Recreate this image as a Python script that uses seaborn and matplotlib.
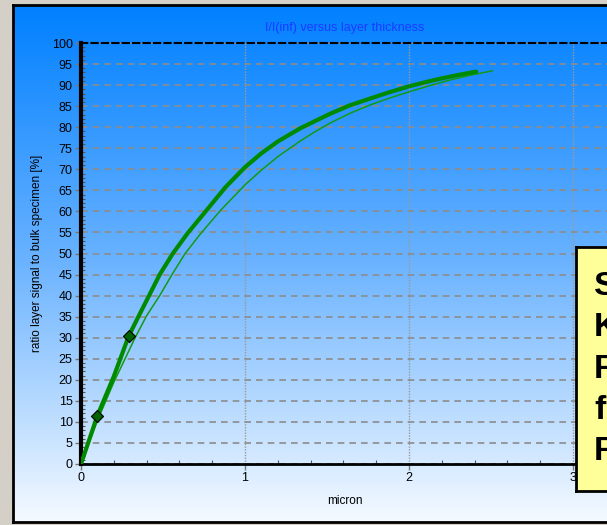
import numpy as np
import pandas as pd
import matplotlib
matplotlib.use("Agg")
import matplotlib.pyplot as plt
import seaborn as sns

# ---- data ----
thick_x = [0, 0.1, 0.2, 0.29, 0.35, 0.415, 0.48, 0.56, 0.65, 0.76, 0.88, 1.0, 1.1, 1.2,
           1.34, 1.44, 1.52, 1.64, 1.77, 1.88, 2.0, 2.1, 2.2, 2.3, 2.41]
thick_y = [0, 11.5, 20.8, 30.3, 35, 40, 45, 50, 54.8, 60, 65.7, 70.5, 73.8, 76.6,
           79.8, 81.7, 83.2, 85.2, 86.9, 88.3, 89.7, 90.7, 91.6, 92.4, 93.2]
thin_x = [0, 0.1, 0.2, 0.33, 0.4, 0.48, 0.555, 0.635, 0.727, 0.85, 1.0, 1.1, 1.2, 1.34,
          1.43, 1.52, 1.64, 1.77, 1.88, 2.0, 2.12, 2.25, 2.38, 2.51]
thin_y = [0, 10.3, 19.4, 30, 35.2, 40, 45, 50, 54.6, 60.2, 66.3, 69.8, 73, 76.8,
          79.0, 81, 83.3, 85.4, 86.9, 88.4, 89.8, 91.2, 92.4, 93.4]
marker_x = [0.1, 0.29]
marker_y = [11.5, 30.3]
x_ticks = [0, 1, 2, 3]
y_ticks = list(range(0, 101, 5))
title = "I/I(inf) versus layer thickness"
x_label = "micron"
y_label = "ratio layer signal to bulk specimen [%]"
box_text = "S\nK\nR\nf\nR"

thick = pd.DataFrame({"x": thick_x, "y": thick_y})
thin = pd.DataFrame({"x": thin_x, "y": thin_y})
marks = pd.DataFrame({"x": marker_x, "y": marker_y})

sns.set_theme(style="white")
plt.rcParams["font.family"] = ["Liberation Sans", "DejaVu Sans"]

W, H = 607, 525
fig = plt.figure(figsize=(W / 100, H / 100), dpi=100)
fig.patch.set_facecolor("#d4d0c8")

# gradient panel
px0, py0, px1, py1 = 13, 5, 640, 522
bg = fig.add_axes([px0 / W, 1 - py1 / H, (px1 - px0) / W, (py1 - py0) / H])
stops_pos = [0.0, 0.49, 1.0]
stops_col = np.array([[0, 128, 255], [105, 178, 255], [245, 250, 255]]) / 255.0
t = np.linspace(0, 1, 300)
grad = np.stack([np.interp(t, stops_pos, stops_col[:, c]) for c in range(3)], axis=1)
bg.imshow(grad[:, None, :], aspect="auto", extent=[0, 1, 0, 1], interpolation="bilinear")
bg.set_xticks([]); bg.set_yticks([])
for s in bg.spines.values():
    s.set_color("black"); s.set_linewidth(2)
bg.set_zorder(0)

# plot axes
l, r, top, bot = 81, 609, 43, 464
ax = fig.add_axes([l / W, 1 - bot / H, (r - l) / W, (bot - top) / H])
ax.set_facecolor("none")
ax.set_zorder(1)

sns.lineplot(data=thin, x="x", y="y", ax=ax, color="#139a13", lw=1.1, sort=False, zorder=3)
sns.lineplot(data=thick, x="x", y="y", ax=ax, color="#008a00", lw=3.0, sort=False, zorder=4)
sns.scatterplot(data=marks, x="x", y="y", ax=ax, marker="D", s=38, color="#006400",
                edgecolor="black", linewidth=0.8, zorder=5)

ax.set_xlim(0, 3.22)
ax.set_ylim(0, 100)
ax.set_xticks(x_ticks)
ax.set_yticks(y_ticks)
ax.set_xticks(np.arange(0, 3.21, 0.2), minor=True)
ax.set_yticks(np.arange(0, 101, 1), minor=True)
ax.grid(True, axis="y", which="major", color="#8c8c8c", linestyle=(0, (4, 3)), lw=1.2)
ax.grid(True, axis="x", which="major", color="#9a9a9a", linestyle=(0, (1, 1)), lw=1.0)
ax.tick_params(axis="both", which="major", direction="out", length=4, width=1,
               color="#777777", labelsize=9, labelcolor="black", pad=2,
               bottom=True, left=True)
ax.tick_params(axis="both", which="minor", direction="in", length=3, width=0.8,
               color="#555555", bottom=True, left=True)
ax.set_xlabel(x_label, fontsize=8.5, color="black", labelpad=8)
ax.set_ylabel(y_label, fontsize=8.5, color="black", labelpad=6)
ax.set_title(title, fontsize=9, color="#1a3cff", pad=9)

ax.spines["left"].set_color("black"); ax.spines["left"].set_linewidth(3)
ax.spines["bottom"].set_color("black"); ax.spines["bottom"].set_linewidth(2)
ax.spines["top"].set_color("black"); ax.spines["top"].set_linewidth(1.5)
ax.spines["top"].set_linestyle((0, (3, 2)))
ax.spines["right"].set_visible(False)

# yellow box (partly outside the picture, as in the reference)
bx0, by0, bx1, by1 = 576, 247, 660, 491
box = fig.add_axes([bx0 / W, 1 - by1 / H, (bx1 - bx0) / W, (by1 - by0) / H])
box.set_facecolor("#ffff99")
box.set_xticks([]); box.set_yticks([])
for s in box.spines.values():
    s.set_color("black"); s.set_linewidth(2)
box.set_zorder(3)
box.text(18 / (bx1 - bx0), 0.5, box_text, transform=box.transAxes, ha="left", va="center",
         fontsize=24.5, fontweight="bold", color="black", linespacing=1.42)

fig.savefig("out.png", dpi=100, facecolor=fig.get_facecolor())
